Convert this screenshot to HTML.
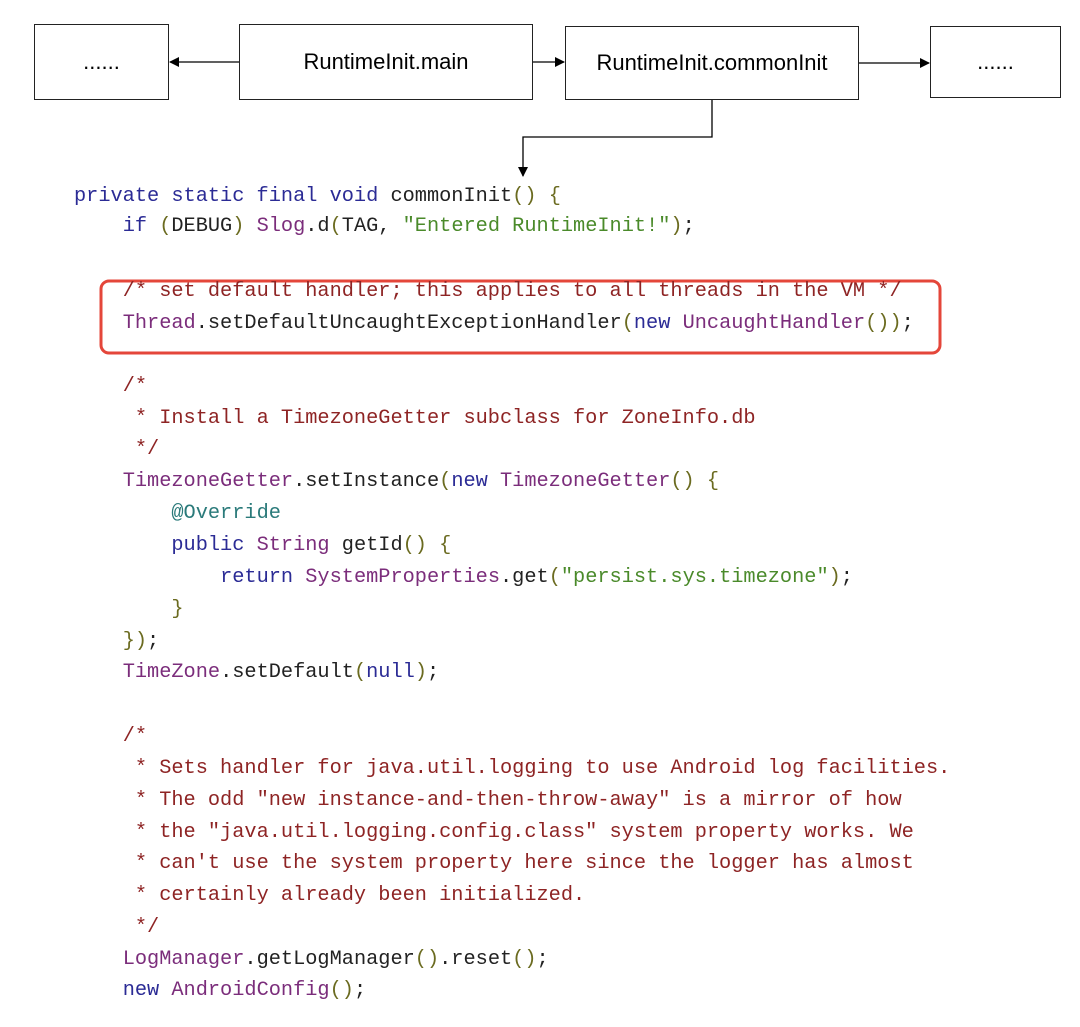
<!DOCTYPE html>
<html><head><meta charset="utf-8"><style>
body{margin:0;width:1080px;height:1027px;background:#fff;position:relative;overflow:hidden}
.b{position:absolute;border:1.5px solid #222;box-sizing:border-box;display:flex;align-items:center;justify-content:center;font-family:"Liberation Sans",sans-serif;font-size:22px;color:#000}
.l{position:absolute;left:74px;font-family:"Liberation Mono",monospace;font-size:20.3px;line-height:32px;white-space:pre;color:#222}
.k{color:#2b2b95}.c{color:#8e2424}.t{color:#7b2d7b}.s{color:#4a8a2a}.p{color:#6b6b20}.a{color:#2a7a7a}
</style></head><body>
<div class="b" style="left:34px;top:24px;width:135px;height:76px">......</div>
<div class="b" style="left:239px;top:24px;width:294px;height:76px">RuntimeInit.main</div>
<div class="b" style="left:565px;top:26px;width:294px;height:74px">RuntimeInit.commonInit</div>
<div class="b" style="left:930px;top:26px;width:131px;height:72px">......</div>
<svg width="1080" height="1027" style="position:absolute;left:0;top:0">
<defs><marker id="m" markerWidth="10" markerHeight="10" refX="9" refY="5" orient="auto" markerUnits="userSpaceOnUse"><path d="M0,0 L10,5 L0,10 z" fill="#000"/></marker></defs>
<g stroke="#000" stroke-width="1.3" fill="none">
<line x1="239" y1="62" x2="170" y2="62" marker-end="url(#m)"/>
<line x1="533" y1="62" x2="564" y2="62" marker-end="url(#m)"/>
<line x1="859" y1="63" x2="929" y2="63" marker-end="url(#m)"/>
<polyline points="712,100 712,137 523,137 523,176" marker-end="url(#m)"/>
</g>
<rect x="101" y="281" width="839" height="72" rx="8" fill="none" stroke="#e4463a" stroke-width="3"/>
</svg>
<div class="l" style="top:181px"><span class="k">private static final void</span> commonInit<span class="p">()</span> <span class="p">{</span></div>
<div class="l" style="top:211px">    <span class="k">if</span> <span class="p">(</span>DEBUG<span class="p">)</span> <span class="t">Slog</span>.d<span class="p">(</span>TAG, <span class="s">"Entered RuntimeInit!"</span><span class="p">)</span>;</div>
<div class="l" style="top:276px">    <span class="c">/* set default handler; this applies to all threads in the VM */</span></div>
<div class="l" style="top:308px">    <span class="t">Thread</span>.setDefaultUncaughtExceptionHandler<span class="p">(</span><span class="k">new</span> <span class="t">UncaughtHandler</span><span class="p">())</span>;</div>
<div class="l" style="top:371px">    <span class="c">/*</span></div>
<div class="l" style="top:403px">    <span class="c"> * Install a TimezoneGetter subclass for ZoneInfo.db</span></div>
<div class="l" style="top:434px">    <span class="c"> */</span></div>
<div class="l" style="top:466px">    <span class="t">TimezoneGetter</span>.setInstance<span class="p">(</span><span class="k">new</span> <span class="t">TimezoneGetter</span><span class="p">()</span> <span class="p">{</span></div>
<div class="l" style="top:498px">        <span class="a">@Override</span></div>
<div class="l" style="top:530px">        <span class="k">public</span> <span class="t">String</span> getId<span class="p">()</span> <span class="p">{</span></div>
<div class="l" style="top:562px">            <span class="k">return</span> <span class="t">SystemProperties</span>.get<span class="p">(</span><span class="s">"persist.sys.timezone"</span><span class="p">)</span>;</div>
<div class="l" style="top:594px">        <span class="p">}</span></div>
<div class="l" style="top:626px">    <span class="p">})</span>;</div>
<div class="l" style="top:657px">    <span class="t">TimeZone</span>.setDefault<span class="p">(</span><span class="k">null</span><span class="p">)</span>;</div>
<div class="l" style="top:721px">    <span class="c">/*</span></div>
<div class="l" style="top:753px">    <span class="c"> * Sets handler for java.util.logging to use Android log facilities.</span></div>
<div class="l" style="top:785px">    <span class="c"> * The odd "new instance-and-then-throw-away" is a mirror of how</span></div>
<div class="l" style="top:817px">    <span class="c"> * the "java.util.logging.config.class" system property works. We</span></div>
<div class="l" style="top:848px">    <span class="c"> * can't use the system property here since the logger has almost</span></div>
<div class="l" style="top:880px">    <span class="c"> * certainly already been initialized.</span></div>
<div class="l" style="top:912px">    <span class="c"> */</span></div>
<div class="l" style="top:944px">    <span class="t">LogManager</span>.getLogManager<span class="p">()</span>.reset<span class="p">()</span>;</div>
<div class="l" style="top:975px">    <span class="k">new</span> <span class="t">AndroidConfig</span><span class="p">()</span>;</div>
</body></html>
